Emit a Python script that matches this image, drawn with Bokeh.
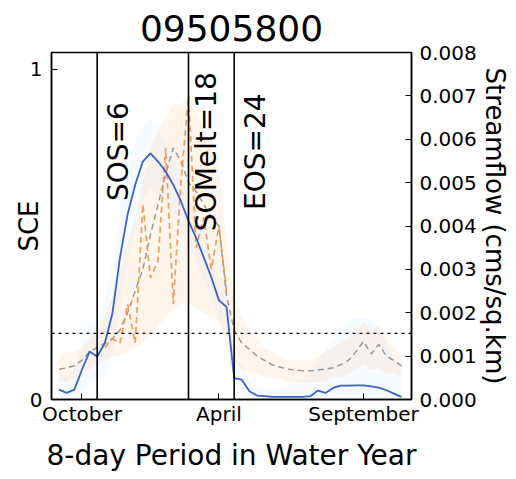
import math
from bokeh.plotting import figure
from bokeh.models import (Range1d, LinearAxis, FixedTicker, NumeralTickFormatter,
                          Span, ColumnDataSource)
from bokeh.core.properties import value
from bokeh.embed import file_html
from bokeh.resources import INLINE

# ---------------- data ----------------
station = "09505800"
period = list(range(1, 47))

sce = [0.03, 0.02, 0.03, 0.09, 0.145, 0.13, 0.17, 0.26, 0.43, 0.56,
       0.65, 0.72, 0.745, 0.72, 0.69, 0.65, 0.60, 0.54, 0.49, 0.43,
       0.37, 0.30, 0.28, 0.065, 0.06, 0.025, 0.012, 0.01, 0.008, 0.008,
       0.008, 0.008, 0.008, 0.01, 0.027, 0.02, 0.035, 0.042, 0.042, 0.043,
       0.043, 0.04, 0.036, 0.028, 0.018, 0.008]

sce_lo = [0.0, 0.0, 0.0, 0.02, 0.06, 0.05, 0.07, 0.14, 0.28, 0.42,
          0.52, 0.60, 0.64, 0.62, 0.60, 0.56, 0.52, 0.47, 0.42, 0.36,
          0.30, 0.24, 0.20, 0.02, 0.02, 0.0, 0.0, 0.0, 0.0, 0.0,
          0.0, 0.0, 0.0, 0.0, 0.0, 0.0, 0.0, 0.0, 0.0, 0.0,
          0.0, 0.0, 0.0, 0.0, 0.0, 0.0]

sce_hi = [0.08, 0.07, 0.09, 0.17, 0.24, 0.23, 0.30, 0.42, 0.58, 0.70,
          0.78, 0.83, 0.85, 0.82, 0.78, 0.74, 0.68, 0.61, 0.56, 0.50,
          0.44, 0.37, 0.35, 0.12, 0.11, 0.06, 0.04, 0.03, 0.03, 0.03,
          0.04, 0.05, 0.06, 0.08, 0.12, 0.15, 0.18, 0.21, 0.24, 0.25,
          0.25, 0.24, 0.22, 0.17, 0.12, 0.08]

flow_mean = [0.0007, 0.00073, 0.00078, 0.0009, 0.0011, 0.0012, 0.0013, 0.0014, 0.0016, 0.002,
             0.0025, 0.003, 0.0038, 0.0045, 0.0052, 0.0058, 0.0055, 0.005, 0.0048, 0.0045,
             0.0042, 0.004, 0.0024, 0.0016, 0.0013, 0.00116, 0.001, 0.0009, 0.0008, 0.00075,
             0.0007, 0.00068, 0.00066, 0.00066, 0.00068, 0.0007, 0.00073, 0.0008, 0.0009, 0.0011,
             0.00134, 0.00105, 0.00127, 0.001, 0.0009, 0.00077]

flow_lo = [0.0004, 0.0004, 0.0005, 0.0006, 0.0007, 0.0008, 0.0009, 0.0010, 0.0010, 0.0011,
           0.0012, 0.0013, 0.0015, 0.0017, 0.0019, 0.0021, 0.0022, 0.0022, 0.0021, 0.0020,
           0.0019, 0.0018, 0.0012, 0.0009, 0.0007, 0.0006, 0.0006, 0.0005, 0.0005, 0.0005,
           0.0004, 0.0004, 0.0004, 0.0004, 0.0004, 0.0004, 0.0005, 0.0005, 0.0006, 0.0007,
           0.0008, 0.0007, 0.0007, 0.0006, 0.0006, 0.0005]

flow_hi = [0.0010, 0.0011, 0.0011, 0.0012, 0.0014, 0.0016, 0.0019, 0.0024, 0.0030, 0.0036,
           0.0042, 0.0050, 0.0058, 0.0062, 0.0065, 0.0068, 0.0068, 0.0070, 0.0066, 0.0062,
           0.0058, 0.0054, 0.0036, 0.0024, 0.0019, 0.0016, 0.0014, 0.0012, 0.0011, 0.0010,
           0.0009, 0.0009, 0.0009, 0.0009, 0.0010, 0.0011, 0.0012, 0.0013, 0.0014, 0.0016,
           0.0018, 0.0016, 0.0017, 0.0014, 0.0012, 0.0010]

spike_period = list(range(7, 24))
flow_year = [0.0012, 0.0014, 0.0013, 0.0022, 0.0013, 0.0045, 0.0028, 0.0032, 0.0058, 0.0022,
             0.0050, 0.0070, 0.0035, 0.0042, 0.0030, 0.0040, 0.0025]

events = [6, 18, 24]
event_labels = ["SOS=6", "SOMelt=18", "EOS=24"]
sce_threshold = 0.2

month_ticks = [4, 22, 41]
month_labels = ["October", "April", "September"]
flow_ticks = [0.000, 0.001, 0.002, 0.003, 0.004, 0.005, 0.006, 0.007, 0.008]

# ---------------- figure ----------------
FONT = "DejaVu Sans"
p = figure(width=514, height=477,
           x_range=Range1d(0, 47.3), y_range=Range1d(0, 1.05),
           output_backend="svg", toolbar_location=None,
           min_border_left=51, min_border_right=103, min_border_top=48, min_border_bottom=78)
p.extra_y_ranges = {"flow": Range1d(0, 0.008)}

p.title.text = station
p.title.align = "center"
p.title.text_font = FONT
p.title.text_font_size = "36px"
p.title.text_font_style = "normal"
p.title.text_color = "black"
p.title.standoff = 24

p.xgrid.visible = False
p.ygrid.visible = False
p.outline_line_color = "black"
p.outline_line_width = 1.5
p.background_fill_color = "white"
p.border_fill_color = "white"

def style_axis(ax, label, label_size, label_standoff, tick_standoff):
    ax.axis_label = label
    ax.axis_label_text_font = FONT
    ax.axis_label_text_font_size = label_size
    ax.axis_label_text_font_style = "normal"
    ax.axis_label_text_color = "black"
    ax.major_label_text_font = FONT
    ax.major_label_text_font_size = "20px"
    ax.major_label_text_color = "black"
    ax.major_tick_in = 6
    ax.major_tick_out = 0
    ax.minor_tick_in = 0
    ax.minor_tick_out = 0
    ax.major_tick_line_color = "black"
    ax.axis_line_color = "black"
    ax.axis_line_width = 1.5
    ax.axis_label_standoff = label_standoff
    ax.major_label_standoff = tick_standoff

# bottom axis
xa = p.xaxis[0]
xa.ticker = FixedTicker(ticks=month_ticks)
xa.major_label_overrides = {t: l for t, l in zip(month_ticks, month_labels)}
style_axis(xa, "8-day Period in Water Year", "28px", 10, 2)

# left axis
ya = p.yaxis[0]
ya.ticker = FixedTicker(ticks=[0, 1])
style_axis(ya, "SCE", "26px", -17, 9)

# right axis
ra = LinearAxis(y_range_name="flow", ticker=FixedTicker(ticks=flow_ticks),
                formatter=NumeralTickFormatter(format="0.000"))
style_axis(ra, "Streamflow (cms/sq.km)", "26px", 0, 8)
p.add_layout(ra, "right")

# bands
p.varea(x=period, y1=flow_lo, y2=flow_hi, fill_color="#ffb870", fill_alpha=0.14,
        y_range_name="flow")
p.varea(x=period, y1=sce_lo, y2=sce_hi, fill_color="#8cc8ff", fill_alpha=0.08)

# streamflow dashed lines
p.line(x=period, y=flow_mean, line_color="#999999", line_width=1.5, line_dash="6 4",
       y_range_name="flow")
p.line(x=spike_period, y=flow_year, line_color="#e8904a", line_width=1.7, line_dash="6 4",
       line_alpha=0.85, y_range_name="flow")

# SCE line
p.line(x=period, y=sce, line_color="#3b62c4", line_width=1.8)

# threshold and event lines
p.add_layout(Span(location=sce_threshold, dimension="width", line_color="black",
                  line_width=1.2, line_dash="3 4"))
for e in events:
    p.add_layout(Span(location=e, dimension="height", line_color="black", line_width=1.6))

label_offsets = [0.6, 0.2, 0.7]
src = ColumnDataSource(dict(x=[e + o for e, o in zip(events, label_offsets)],
                            y=[0.75] * len(events), t=event_labels))
p.text(x="x", y="y", text="t", source=src, angle=math.pi / 2,
       text_align="center", text_baseline="top",
       text_font=value(FONT), text_font_size="28px", text_color="black")

open("out.html", "w").write(file_html(p, INLINE))
